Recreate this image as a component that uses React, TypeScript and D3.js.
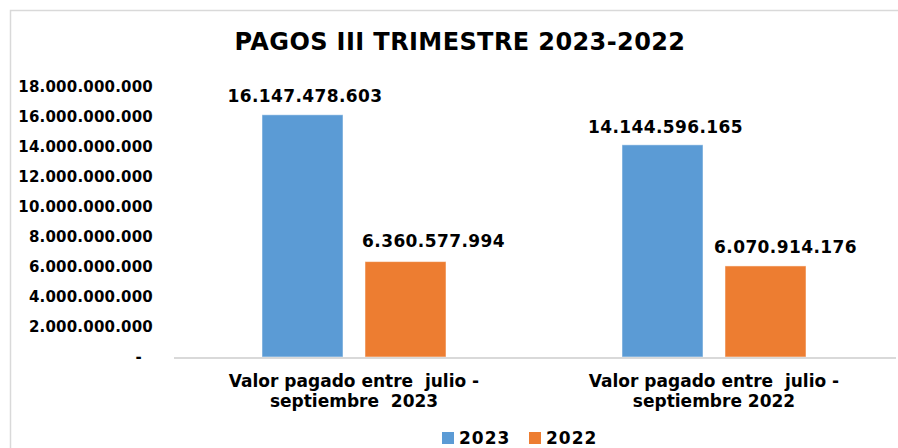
import React from 'react';
import * as d3 from 'd3';

const width = 898;
const height = 448;

const categories = [
  ['Valor pagado entre  julio -', 'septiembre  2023'],
  ['Valor pagado entre  julio -', 'septiembre 2022'],
];
const seriesNames = ['2023', '2022'];
const values2023 = [16147478603, 14144596165];
const values2022 = [6360577994, 6070914176];
const yTicks = [0, 2e9, 4e9, 6e9, 8e9, 10e9, 12e9, 14e9, 16e9, 18e9];
const colors = ['#5b9bd5', '#ed7d31'];

// hand-placed label nudges (series x category), like the original's moved labels
const labelDx = [[2.5, 3], [28, 20]];
const labelDy = [[-13, -12], [-15, -13]];

const font = "'DejaVu Sans', Verdana, sans-serif";
const locale = d3.formatLocale({ decimal: ',', thousands: '.', grouping: [3], currency: ['$', ''] });
const fmt = locale.format(',d');
const keepSpaces = (s: string) => s.replace(/  /g, ' \u00a0');

export default function App() {
  const series = [values2023, values2022];
  const x0 = d3.scaleBand<number>().domain(d3.range(categories.length)).range([174, 894]);
  const y = d3.scaleLinear().domain([0, 18e9]).range([357, 87]);
  const barW = 81;
  const gap = 22;

  return (
    <svg width={width} height={height} style={{ position: 'absolute', left: 0, top: 0, display: 'block', background: '#fff' }}
      fontFamily={font} fontWeight="bold">
      <rect x={10.5} y={10.5} width={900} height={450} fill="#fff" stroke="#d9d9d9" strokeWidth={1.5} />
      <text x={460} y={50} textAnchor="middle" fontSize={24} letterSpacing={0.4}>PAGOS III TRIMESTRE 2023-2022</text>

      {yTicks.map(t => (
        <text key={t} x={t === 0 ? 142 : 153} y={y(t) + 5} textAnchor="end" fontSize={15} letterSpacing={0.2}>
          {t === 0 ? '-' : fmt(t)}
        </text>
      ))}

      {categories.map((c, ci) => {
        const cx = x0(ci)! + x0.bandwidth() / 2;
        return (
          <g key={ci}>
            {series.map((s, si) => {
              const bx = cx + (si === 0 ? -gap / 2 - barW : gap / 2);
              return (
                <g key={si}>
                  <rect x={bx} y={y(s[ci])} width={barW} height={y(0) - y(s[ci])} fill={colors[si]}
                    stroke="#fff" strokeOpacity={0.5} strokeWidth={1} />
                  <text x={bx + barW / 2 + labelDx[si][ci]} y={y(s[ci]) + labelDy[si][ci]} textAnchor="middle"
                    fontSize={17} letterSpacing={0.4}>{fmt(s[ci])}</text>
                </g>
              );
            })}
            {c.map((line, li) => (
              <text key={li} x={cx} y={387 + li * 20} textAnchor="middle" fontSize={17}>{keepSpaces(line)}</text>
            ))}
          </g>
        );
      })}

      <line x1={174} x2={896} y1={y(0) + 1} y2={y(0) + 1} stroke="#d9d9d9" strokeWidth={2} />

      {seriesNames.map((n, i) => (
        <g key={n} transform={`translate(${442 + i * 87},0)`}>
          <rect x={0} y={432} width={12} height={12} fill={colors[i]} />
          <text x={17} y={444} fontSize={17} letterSpacing={1}>{n}</text>
        </g>
      ))}
    </svg>
  );
}
